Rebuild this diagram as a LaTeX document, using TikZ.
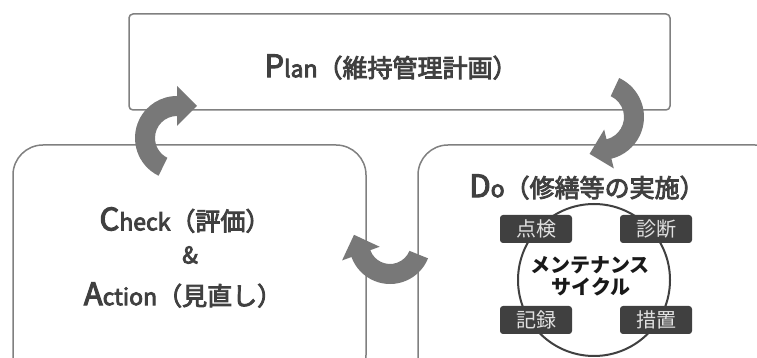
\documentclass[tikz,border=0pt]{standalone}
\usepackage{fontspec}
\setmainfont{Noto Sans CJK JP}
\newfontfamily\jpmed{Noto Sans CJK JP}[UprightFont=*, UprightFeatures={FakeBold=3.5}]
\usetikzlibrary{calc}
\definecolor{boxline}{HTML}{808080}
\definecolor{txt}{HTML}{404040}
\definecolor{arrowgray}{HTML}{787878}
\definecolor{darkbox}{HTML}{404040}
\tikzset{
  bigbox/.style={draw=boxline, line width=1.5pt, fill=white},
  label/.style={text=txt, inner sep=0pt, font=\jpmed\fontsize{25}{30}\selectfont},
  stepbox/.style={fill=darkbox, rounded corners=3pt, minimum width=72pt, minimum height=28pt, inner sep=0pt,
     text=white!88!black, font=\fontsize{20}{24}\selectfont},
  arrowfill/.style={fill=arrowgray},
}
\newcommand{\bigL}[1]{{\fontsize{31}{31}\selectfont #1}}
\newcommand{\smL}[1]{{\fontsize{23}{23}\selectfont #1}}
% #1 center, #2 radius, #3 start angle, #4 end angle (clockwise)
\newcommand{\cyclearrow}[4]{%
  \path[arrowfill] ($(#1)+(#3:#2+10)$) arc[start angle=#3, end angle=#4, radius=#2pt+10pt]
    -- ($(#1)+(#4:#2+20)$) -- ($(#1)+(#4:#2)+(#4-90:20)$) -- ($(#1)+(#4:#2-20)$)
    -- ($(#1)+(#4:#2-10)$) arc[start angle=#4, end angle=#3, radius=#2pt-10pt] -- cycle;}
\begin{document}
\begin{tikzpicture}[x=1pt,y=1pt]
\useasboundingbox (0,0) rectangle (757,358);
\clip (0,0) rectangle (757,358);
\fill[white] (0,0) rectangle (757,358);
% boxes
\node[bigbox, rounded corners=4pt, minimum width=541pt, minimum height=96pt, inner sep=0pt] (plan) at (399.5,296) {};
\node[bigbox, rounded corners=30pt, minimum width=353pt, minimum height=240pt, inner sep=0pt] (check) at (189.5,93) {};
\node[bigbox, rounded corners=30pt, minimum width=367pt, minimum height=240pt, inner sep=0pt] (do) at (601.5,93) {};
% texts
\node[label] (plant) at (391,291) {\bigL{P}\smL{lan}（維持管理計画）};
\node[label] (checkt) at (185,138) {\bigL{C}\smL{heck}（評価）};
\node[label] (amp) at (190,103) {\smL{\&}};
\node[label] (actiont) at (183,63) {\bigL{A}\smL{ction}（見直し）};
\node[label] (dot) at (587,171) {\bigL{D}\smL{o}（修繕等の実施）};
% maintenance cycle
\node[draw=darkbox, line width=2pt, circle, minimum size=152pt, inner sep=0pt] (cyc) at (594,78) {};
\node[font=\bfseries\fontsize{20}{24}\selectfont, text=black!90, inner sep=0pt] (m1) at (590,93) {メンテナンス};
\node[font=\bfseries\fontsize{20}{24}\selectfont, text=black!90, inner sep=0pt] (m2) at (591,71) {サイクル};
\node[stepbox] (tenken) at (536,129) {点検};
\node[stepbox] (shindan) at (656,129) {診断};
\node[stepbox] (kiroku) at (536,38) {記録};
\node[stepbox] (sochi) at (656,38) {措置};
% cycle arrows
\coordinate (c1) at (177,220);
\coordinate (c2) at (601,241);
\coordinate (c3) at (390,115);
\cyclearrow{c1}{32}{244}{90}
\cyclearrow{c2}{33}{65}{-76}
\cyclearrow{c3}{31}{-22}{-160}
\end{tikzpicture}
\end{document}
